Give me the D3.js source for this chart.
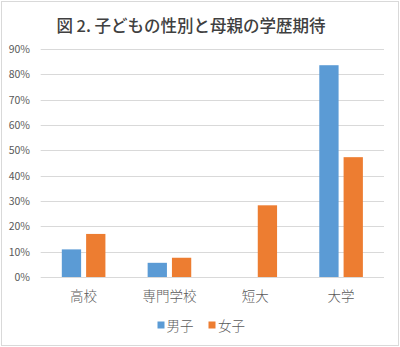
<!DOCTYPE html>
<html>
<head>
<meta charset="utf-8">
<script src="https://cdn.jsdelivr.net/npm/d3@7"></script>
<style>
  html, body { margin: 0; padding: 0; background: #fff; }
  svg { display: block; }
  text { font-family: "Noto Sans CJK JP", "Noto Sans", sans-serif; }
</style>
</head>
<body>
<script>
// Mothers' educational expectations by child's sex
const categories = ["高校", "専門学校", "短大", "大学"];
const seriesNames = ["男子", "女子"];
const boys = [10.9, 5.6, 0, 83.6];
const girls = [17.0, 7.6, 28.3, 47.3];
const yTicks = [0, 10, 20, 30, 40, 50, 60, 70, 80, 90];
const titleText = "図 2. 子どもの性別と母親の学歴期待";

const W = 400, H = 347;
const colors = { "男子": "#5b9bd5", "女子": "#ed7d31" };

const svg = d3.select("body").append("svg")
  .attr("width", W).attr("height", H);

// outer frame
svg.append("rect")
  .attr("x", 1.5).attr("y", 1.5)
  .attr("width", W - 3).attr("height", H - 3)
  .attr("fill", "#fff").attr("stroke", "#d9d9d9").attr("stroke-width", 1);

const plot = { left: 40.7, right: 384, top: 49, bottom: 277 };

const x0 = d3.scaleBand().domain(categories)
  .range([plot.left, plot.right]).paddingInner(0).paddingOuter(0);
const x1 = d3.scaleBand().domain(seriesNames)
  .range([-21.8, 21.8]).paddingInner(0.206).paddingOuter(0);
const y = d3.scaleLinear().domain([0, 90]).range([plot.bottom, plot.top]);

// title
svg.append("text")
  .attr("x", 191).attr("y", 25)
  .attr("text-anchor", "middle").attr("dominant-baseline", "central")
  .attr("font-size", 16.5).attr("font-weight", 500)
  .attr("fill", "#404040")
  .text(titleText);

// gridlines
svg.append("g").selectAll("line").data(yTicks).join("line")
  .attr("x1", plot.left).attr("x2", plot.right)
  .attr("y1", d => Math.round(y(d)) + 0.5).attr("y2", d => Math.round(y(d)) + 0.5)
  .attr("stroke", "#d9d9d9").attr("stroke-width", 1);

// y axis labels
const yAxis = d3.axisLeft(y).tickValues(yTicks).tickSize(0).tickPadding(0)
  .tickFormat(d => d + "%");
const yg = svg.append("g").attr("transform", "translate(30,0)").call(yAxis);
yg.select(".domain").remove();
yg.selectAll("text").attr("font-size", 10.5).attr("fill", "#595959")
  .attr("font-family", "\"Noto Sans\", sans-serif");

// bars
const rows = categories.map((c, i) => ({ cat: c, values: [
  { name: "男子", v: boys[i] }, { name: "女子", v: girls[i] }] }));

const groups = svg.append("g").selectAll("g").data(rows).join("g")
  .attr("transform", d => `translate(${x0(d.cat) + x0.bandwidth() / 2},0)`);
groups.selectAll("rect").data(d => d.values.filter(e => e.v > 0)).join("rect")
  .attr("x", d => x1(d.name))
  .attr("width", x1.bandwidth())
  .attr("y", d => y(d.v))
  .attr("height", d => y(0) - y(d.v))
  .attr("fill", d => colors[d.name]);

// category axis
const xAxis = d3.axisBottom(x0).tickSize(0).tickPadding(0);
const xg = svg.append("g").attr("transform", `translate(0,${plot.bottom})`).call(xAxis);
xg.select(".domain").remove();
xg.selectAll("text").attr("font-size", 13.5).attr("fill", "#595959")
  .attr("font-weight", 300)
  .attr("dy", null).attr("y", 18).attr("dominant-baseline", "central");

// legend
const legendItems = [
  { name: "男子", sx: 157.5, tx: 166.5 },
  { name: "女子", sx: 208.5, tx: 218 }
];
const lg = svg.append("g");
lg.selectAll("rect").data(legendItems).join("rect")
  .attr("x", d => d.sx).attr("y", 321.5).attr("width", 7).attr("height", 7)
  .attr("fill", d => colors[d.name]);
lg.selectAll("text").data(legendItems).join("text")
  .attr("x", d => d.tx).attr("y", 325)
  .attr("dominant-baseline", "central")
  .attr("font-size", 13.5).attr("font-weight", 300).attr("fill", "#595959")
  .text(d => d.name);
</script>
</body>
</html>
